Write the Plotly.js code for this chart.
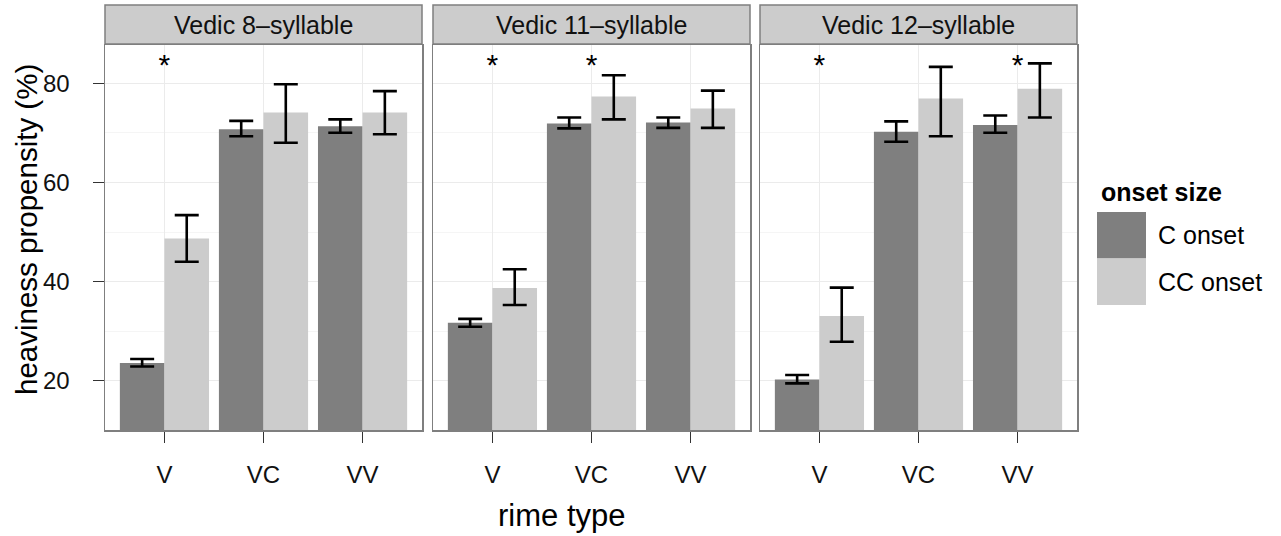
<!DOCTYPE html>
<html>
<head>
<meta charset="utf-8">
<script src="https://cdn.plot.ly/plotly-3.0.1.min.js"></script>
<style>html,body{margin:0;padding:0;background:#fff;}#chart{width:1281px;height:536px;}</style>
</head>
<body>
<div id="chart"></div>
<script>
// ---- data ----
const categories = ['V', 'VC', 'VV'];
const panelTitles = ['Vedic 8\u2013syllable', 'Vedic 11\u2013syllable', 'Vedic 12\u2013syllable'];
const seriesNames = ['C onset', 'CC onset'];

// Vedic 8-syllable
const c8 = [23.6, 70.7, 71.3];
const c8Hi = [24.4, 72.4, 72.7];
const c8Lo = [22.9, 69.3, 70.0];
const cc8 = [48.7, 74.1, 74.1];
const cc8Hi = [53.4, 79.8, 78.4];
const cc8Lo = [44.0, 68.0, 69.7];
// Vedic 11-syllable
const c11 = [31.7, 71.9, 72.1];
const c11Hi = [32.5, 73.1, 73.1];
const c11Lo = [30.9, 70.9, 71.0];
const cc11 = [38.7, 77.3, 74.9];
const cc11Hi = [42.5, 81.6, 78.5];
const cc11Lo = [35.3, 72.7, 71.0];
// Vedic 12-syllable
const c12 = [20.3, 70.2, 71.6];
const c12Hi = [21.2, 72.3, 73.5];
const c12Lo = [19.5, 68.2, 70.0];
const cc12 = [33.1, 76.9, 78.9];
const cc12Hi = [38.8, 83.3, 84.0];
const cc12Lo = [27.9, 69.3, 73.1];

// significance markers (category per panel)
const sig8 = ['V'];
const sig11 = ['V', 'VC'];
const sig12 = ['V', 'VV'];
const sigLevel = 83.1;

const yTicks = [20, 40, 60, 80];

// ---- build ----
const W = 1281, H = 536;
const FONT = 'Liberation Sans, Arial, Helvetica, sans-serif';
const darkFill = '#7f7f7f', lightFill = '#cccccc', frame = '#7f7f7f';

const panels = [
  {c: c8, cHi: c8Hi, cLo: c8Lo, cc: cc8, ccHi: cc8Hi, ccLo: cc8Lo, sig: sig8, px: [105, 422]},
  {c: c11, cHi: c11Hi, cLo: c11Lo, cc: cc11, ccHi: cc11Hi, ccLo: cc11Lo, sig: sig11, px: [433, 750]},
  {c: c12, cHi: c12Hi, cLo: c12Lo, cc: cc12, ccHi: cc12Hi, ccLo: cc12Lo, sig: sig12, px: [760, 1077]}
];
const plotTop = 45, plotBot = 430;
const yDom = [1 - plotBot / H, 1 - plotTop / H];

const traces = [];
const layout = {
  width: W, height: H,
  margin: {l: 0, r: 0, t: 0, b: 0},
  paper_bgcolor: '#ffffff', plot_bgcolor: '#ffffff',
  barmode: 'group', bargap: 0.1, bargroupgap: 0,
  showlegend: false,
  font: {family: FONT, color: '#000'},
  shapes: [], annotations: []
};

function diff(a, b) { return a.map((v, i) => v - b[i]); }

panels.forEach((p, k) => {
  const xa = k === 0 ? 'x' : 'x' + (k + 1);
  const ya = k === 0 ? 'y' : 'y' + (k + 1);
  const errStyle = {type: 'data', symmetric: false, color: '#000', thickness: 2.6, width: 12};
  traces.push({
    type: 'bar', name: seriesNames[0], x: categories, y: p.c, xaxis: xa, yaxis: ya,
    marker: {color: darkFill, line: {width: 0}},
    error_y: Object.assign({array: diff(p.cHi, p.c), arrayminus: diff(p.c, p.cLo)}, errStyle),
    hoverinfo: 'x+y'
  });
  traces.push({
    type: 'bar', name: seriesNames[1], x: categories, y: p.cc, xaxis: xa, yaxis: ya,
    marker: {color: lightFill, line: {width: 0}},
    error_y: Object.assign({array: diff(p.ccHi, p.cc), arrayminus: diff(p.cc, p.ccLo)}, errStyle),
    hoverinfo: 'x+y'
  });
  traces.push({
    type: 'scatter', mode: 'text', x: p.sig, y: p.sig.map(() => sigLevel), text: p.sig.map(() => '*'),
    textposition: 'middle center', textfont: {family: FONT, size: 30, color: '#000'},
    xaxis: xa, yaxis: ya, hoverinfo: 'skip', cliponaxis: false
  });

  const dom = [p.px[0] / W, p.px[1] / W];
  const xKey = k === 0 ? 'xaxis' : 'xaxis' + (k + 1);
  const yKey = k === 0 ? 'yaxis' : 'yaxis' + (k + 1);
  layout[xKey] = {
    domain: dom, anchor: ya, type: 'category', range: [-0.6, 2.6],
    categoryorder: 'array', categoryarray: categories,
    showgrid: true, gridcolor: '#ebebeb', gridwidth: 1,
    showline: true, mirror: true, linecolor: frame, linewidth: 1.5,
    ticks: 'outside', ticklen: 11, tickcolor: '#333', tickwidth: 1,
    ticklabelstandoff: 12,
    tickfont: {family: FONT, size: 24, color: '#111'},
    zeroline: false, fixedrange: true
  };
  layout[yKey] = {
    domain: yDom, anchor: xa, range: [10.1, 87.7],
    tickvals: yTicks, ticktext: yTicks.map(String),
    showticklabels: k === 0,
    showgrid: true, gridcolor: '#ebebeb', gridwidth: 1,
    minor: {tick0: 10, dtick: 20, showgrid: true, gridcolor: '#f5f5f5', gridwidth: 1, ticks: ''},
    showline: true, mirror: true, linecolor: frame, linewidth: 1.5,
    ticks: k === 0 ? 'outside' : '', ticklen: 11, tickcolor: '#333', tickwidth: 1,
    ticklabelstandoff: 18,
    tickfont: {family: FONT, size: 24, color: '#111'},
    zeroline: false, fixedrange: true
  };
  if (k > 0) layout[yKey].matches = 'y';

  // strip
  layout.shapes.push({
    type: 'rect', xref: 'paper', yref: 'paper',
    x0: dom[0], x1: dom[1], y0: 1 - 44 / H, y1: 1 - 5 / H,
    fillcolor: lightFill, line: {color: frame, width: 1.5}, layer: 'above'
  });
  layout.annotations.push({
    xref: 'paper', yref: 'paper', x: (dom[0] + dom[1]) / 2, y: 1 - 24.5 / H,
    xanchor: 'center', yanchor: 'middle', showarrow: false,
    text: panelTitles[k], font: {family: FONT, size: 25, color: '#111'}
  });
});

// axis titles
layout.annotations.push({
  xref: 'paper', yref: 'paper', x: 561 / W, y: 1 - 515 / H, xanchor: 'center', yanchor: 'middle',
  showarrow: false, text: 'rime type', font: {family: FONT, size: 31, color: '#000'}
});
layout.annotations.push({
  xref: 'paper', yref: 'paper', x: 26 / W, y: 1 - 230 / H, xanchor: 'center', yanchor: 'middle',
  showarrow: false, textangle: -90, text: 'heaviness propensity (%)', font: {family: FONT, size: 29.5, color: '#000'}
});

// legend (drawn manually to match key sizes)
layout.annotations.push({
  xref: 'paper', yref: 'paper', x: 1099 / W, y: 1 - 192 / H, xanchor: 'left', yanchor: 'middle',
  showarrow: false, text: '<b>onset size</b>', font: {family: FONT, size: 25, color: '#000'}
});
const keyFills = [darkFill, lightFill];
seriesNames.forEach((name, i) => {
  const top = 212 + i * 46.5, bot = top + 46.5;
  layout.shapes.push({
    type: 'rect', xref: 'paper', yref: 'paper',
    x0: 1097 / W, x1: 1146 / W, y0: 1 - bot / H, y1: 1 - top / H,
    fillcolor: keyFills[i], line: {width: 0}
  });
  layout.annotations.push({
    xref: 'paper', yref: 'paper', x: 1156 / W, y: 1 - (top + bot) / 2 / H, xanchor: 'left', yanchor: 'middle',
    showarrow: false, text: name, font: {family: FONT, size: 25, color: '#000'}
  });
});

Plotly.newPlot('chart', traces, layout, {displayModeBar: false, staticPlot: true});
</script>
</body>
</html>
